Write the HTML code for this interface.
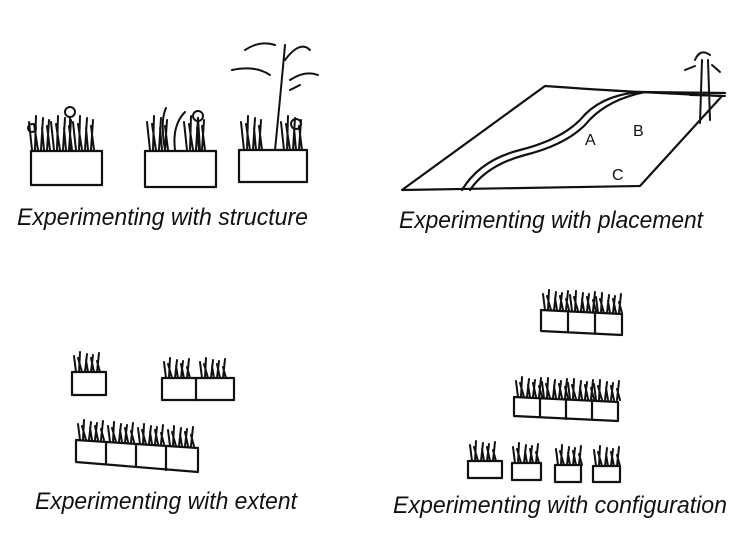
<!DOCTYPE html>
<html><head><meta charset="utf-8"><style>
body{margin:0;background:#fff;}
svg{display:block}
text{font-family:"Liberation Sans",sans-serif;font-style:italic;font-size:24px;fill:#111}
.s{fill:none;stroke:#111;stroke-width:2.2;stroke-linecap:round;stroke-linejoin:round}
.g{fill:none;stroke:#111;stroke-width:2;stroke-linecap:round}
</style></head><body>
<svg width="747" height="560" viewBox="0 0 747 560">
<defs>
<g id="grass"><path class="g" d="M2 0 L0 -16 M5 0 L6 -20 M8 0 L4 -14 M11 0 L13 -18 M14 0 L12 -12 M17 0 L19 -17 M20 0 L17 -14 M23 0 L25 -19 M26 0 L23 -11"/></g>
<g id="tall"><path class="g" d="M2 0 L-1 -28 M5 0 L6 -34 M8 0 L4 -26 M11 0 L13 -32 M14 0 L12 -22 M17 0 L19 -30 M20 0 L17 -24"/></g>
</defs>
<!-- structure -->
<rect class="s" x="31" y="151" width="71" height="34"/>
<rect class="s" x="145" y="151" width="71" height="36"/>
<rect class="s" x="239" y="150" width="68" height="32"/>
<use href="#tall" x="30" y="150"/><use href="#tall" x="52" y="150"/><use href="#tall" x="74" y="150"/>
<path class="g" d="M70 150 L70 118"/><circle class="g" cx="70" cy="112" r="5"/><circle class="g" cx="32" cy="128" r="4"/>
<use href="#tall" x="148" y="150"/><use href="#tall" x="185" y="150"/>
<path class="g" d="M165 150 Q160 120 166 108 M175 150 Q172 125 185 112 M200 150 L198 118"/><circle class="g" cx="198" cy="116" r="5"/>
<use href="#tall" x="242" y="150"/><use href="#tall" x="282" y="150"/>
<path class="g" d="M275 150 Q280 100 285 45 M285 60 Q300 40 310 50 M270 75 Q255 65 232 70 M290 80 Q305 70 318 75 M245 50 Q260 40 275 45 M290 90 L300 85"/>
<circle class="g" cx="296" cy="124" r="5"/>
<!-- placement -->
<path class="s" d="M402 190 L545 86 Q600 90 640 92 L722 96 L640 186 Z"/>
<path class="s" d="M462 190 Q480 160 520 150 Q560 140 580 120 Q600 95 640 92 M470 190 Q487 165 525 155 Q565 145 585 125 Q605 100 645 92"/>
<path class="s" d="M640 92 L725 93"/>
<path class="g" d="M700 123 L702 60 M710 120 L708 60 M690 95 L725 96 M695 60 Q700 48 710 55 M685 70 L695 66 M712 65 L720 72"/>
<text x="585" y="145" style="font-style:normal;font-size:16px">A</text>
<text x="633" y="136" style="font-style:normal;font-size:16px">B</text>
<text x="612" y="180" style="font-style:normal;font-size:16px">C</text>
<!-- extent -->
<rect class="s" x="72" y="372" width="34" height="23"/>
<use href="#grass" x="74" y="372"/>
<rect class="s" x="162" y="378" width="72" height="22"/><path class="s" d="M196 378 L196 400"/>
<use href="#grass" x="164" y="378"/><use href="#grass" x="200" y="378"/>
<path class="s" d="M76 440 L198 448 L198 472 L76 462 Z M106 442 L106 464 M136 444 L136 467 M166 446 L166 470"/>
<use href="#grass" x="78" y="440"/><use href="#grass" x="108" y="442"/><use href="#grass" x="138" y="444"/><use href="#grass" x="168" y="446"/>
<!-- configuration -->
<path class="s" d="M541 310 L622 314 L622 335 L541 331 Z M568 311 L568 332 M595 312 L595 334"/>
<use href="#grass" x="543" y="310"/><use href="#grass" x="570" y="311"/><use href="#grass" x="596" y="313"/>
<path class="s" d="M514 397 L618 402 L618 421 L514 416 Z M540 398 L540 417 M566 399 L566 419 M592 400 L592 420"/>
<use href="#grass" x="516" y="397"/><use href="#grass" x="542" y="398"/><use href="#grass" x="568" y="399"/><use href="#grass" x="594" y="400"/>
<rect class="s" x="468" y="461" width="34" height="17"/><use href="#grass" x="470" y="461"/>
<rect class="s" x="512" y="463" width="29" height="17"/><use href="#grass" x="513" y="463"/>
<rect class="s" x="555" y="465" width="26" height="17"/><use href="#grass" x="556" y="465"/>
<rect class="s" x="593" y="466" width="27" height="16"/><use href="#grass" x="594" y="466"/>
<!-- labels -->
<text x="17" y="225" textLength="291" lengthAdjust="spacingAndGlyphs">Experimenting with structure</text>
<text x="399" y="228" textLength="304" lengthAdjust="spacingAndGlyphs">Experimenting with placement</text>
<text x="35" y="509" textLength="262" lengthAdjust="spacingAndGlyphs">Experimenting with extent</text>
<text x="393" y="513" textLength="334" lengthAdjust="spacingAndGlyphs">Experimenting with configuration</text>
</svg>
</body></html>
